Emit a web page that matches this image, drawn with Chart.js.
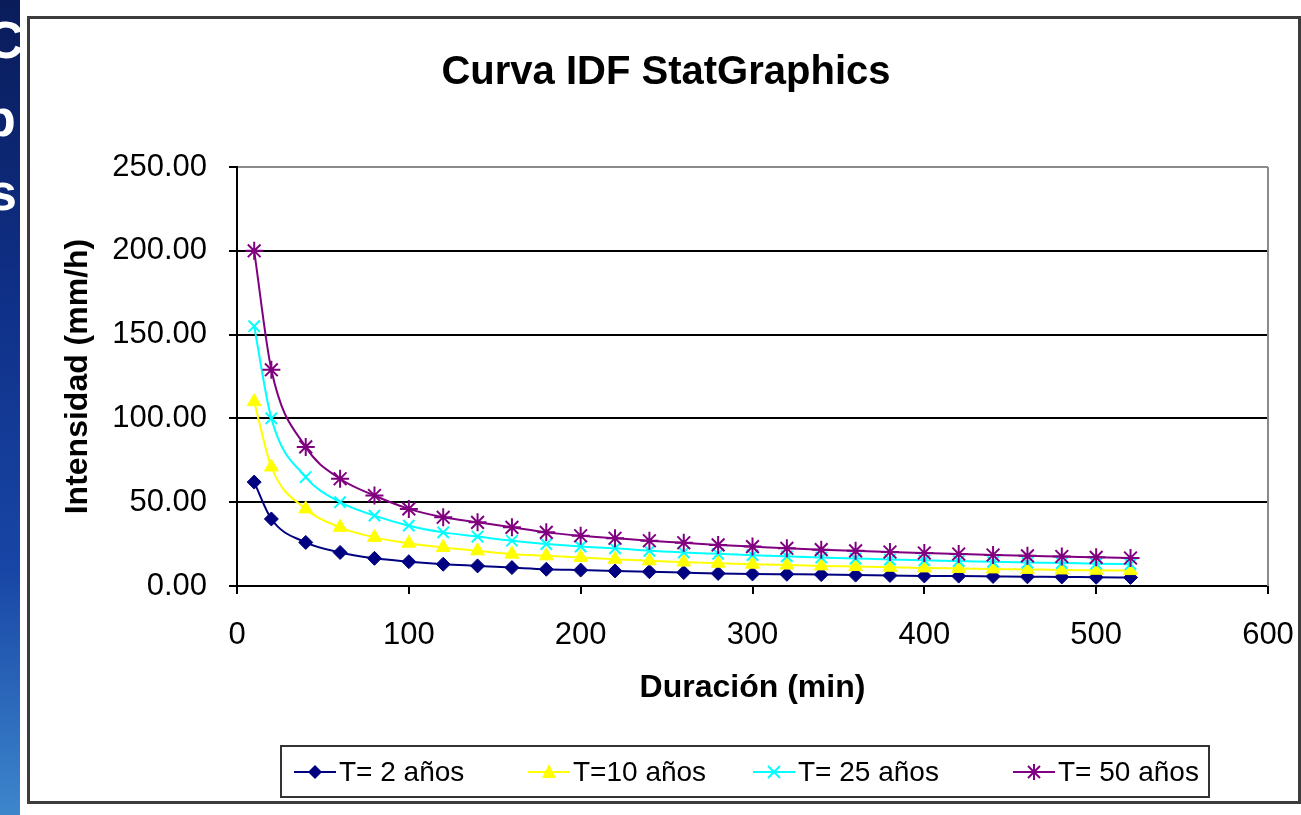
<!DOCTYPE html>
<html>
<head>
<meta charset="utf-8">
<script src="https://cdn.jsdelivr.net/npm/chart.js@4/dist/chart.umd.min.js"></script>
<style>
  html, body { margin:0; padding:0; background:#fff; width:1301px; height:815px; overflow:hidden; }
  body { position:relative; font-family:'Liberation Sans', Arial, sans-serif; }
  #strip { position:absolute; left:0; top:0; width:20px; height:815px; overflow:hidden;
           background:linear-gradient(180deg,#0a1c5a 0%,#0f2f86 35%,#1846a6 70%,#3d86cc 100%); }
  #strip span { position:absolute; color:#fff; font-weight:bold; font-size:52px; line-height:1; }
  #frame { position:absolute; left:27px; top:16px; width:1268px; height:782px; border:3px solid #3c3c3c; box-sizing:content-box; pointer-events:none; }
  #wrap { position:absolute; left:28px; top:17px; width:1269px; height:783px; }
  #title { position:absolute; left:366px; width:600px; top:46px; text-align:center; font-weight:bold; font-size:40px; line-height:48px; color:#000; white-space:nowrap; }
  #legend { position:absolute; left:280px; top:745px; width:926px; height:49px; border:2px solid #333; background:#fff; }
  .li { position:absolute; top:0; height:49px; display:flex; align-items:center; font-size:28px; color:#000; white-space:nowrap; }
  .li svg { margin-right:3px; }
</style>
</head>
<body>
<div id="strip"><span style="left:-14px;top:14px">C</span><span style="left:-16px;top:92px">p</span><span style="left:-12px;top:166px">s</span></div>
<div id="wrap"><canvas id="c" width="1269" height="783"></canvas></div>
<div id="frame"></div>
<div id="title"></div>
<div id="legend"></div>
<script>
// ---- data ----
const durations = [10,20,40,60,80,100,120,140,160,180,200,220,240,260,280,300,320,340,360,380,400,420,440,460,480,500,520];
const t2  = [62,40,26,20,16.5,14.5,13,12,11,10,9.5,9,8.5,8,7.5,7.2,7,6.8,6.5,6.3,6,5.9,5.7,5.5,5.4,5.2,5.1];
const t10 = [110,71,46,35,29,25.5,23,21,19,18,17,16,15,14.3,13.6,13,12.5,12,11.6,11.2,10.8,10.5,10.2,9.9,9.6,9.4,9.2];
const t25 = [155,100,65,50,42,36,32,29.5,27,25,23.5,22.5,21,20,19.2,18.4,17.7,17,16.4,15.8,15.3,14.9,14.4,14,13.7,13.3,13];
const t50 = [200,129,83,64,54,46,41,38,35,32,30,28.5,27,25.8,24.5,23.5,22.5,21.7,21,20.3,19.7,19.1,18.5,18,17.6,17.1,16.7];
const seriesNames = ['T= 2 años','T=10 años','T= 25 años','T= 50 años'];
const xTicks = [0,100,200,300,400,500,600];
const yTicks = [0,50,100,150,200,250];
const chartTitle = 'Curva IDF StatGraphics';
const xTitle = 'Duración (min)';
const yTitle = 'Intensidad (mm/h)';

const FONT = "'Liberation Sans', Arial, sans-serif";
const colors = ['#000080','#FFFF00','#00FFFF','#800080'];
const styles = ['rectRot','triangle','crossRot','star'];
const radii  = [7,8,8,9];
const values = [t2,t10,t25,t50];

document.getElementById('title').textContent = chartTitle;

const datasets = values.map((arr,i)=>({
  label: seriesNames[i],
  data: durations.map((d,k)=>({x:d, y:arr[k]})),
  borderColor: colors[i],
  backgroundColor: colors[i],
  borderWidth: 2,
  pointStyle: styles[i],
  pointRadius: radii[i],
  pointBorderWidth: (i>=2)?2:1,
  pointBorderColor: colors[i],
  pointBackgroundColor: colors[i],
  cubicInterpolationMode: 'monotone',
  tension: 0.4
})).reverse();

const plotBorder = {
  id:'plotBorder',
  beforeDatasetsDraw(chart){
    const {ctx, chartArea:a} = chart;
    ctx.save();
    ctx.strokeStyle = '#8a8a8a';
    ctx.lineWidth = 2;
    ctx.beginPath();
    ctx.moveTo(a.right, a.top); ctx.lineTo(a.right, a.bottom);
    ctx.stroke();
    ctx.restore();
  }
};

new Chart(document.getElementById('c'), {
  type:'line',
  data:{ datasets },
  plugins:[plotBorder],
  options:{
    responsive:false,
    animation:false,
    layout:{ padding:{ left:0, right:29, top:150, bottom:83 } },
    plugins:{
      legend:{ display:false },
      tooltip:{ enabled:false },
      title:{ display:false }
    },
    scales:{
      x:{
        type:'linear', min:0, max:600,
        afterFit(s){ s.height = 131; s.paddingLeft = 0; s.paddingRight = 0; },
        afterBuildTicks(s){ s.ticks = xTicks.map(v=>({value:v})); },
        ticks:{ color:'#000', font:{ family:FONT, size:31 }, padding:23, maxRotation:0, autoSkip:false },
        grid:{ drawOnChartArea:false, drawTicks:true, tickLength:8, color:'#000', lineWidth:2 },
        border:{ display:true, color:'#000', width:2 },
        title:{ display:true, text:xTitle, color:'#000', font:{ family:FONT, size:32, weight:'bold', lineHeight:1.2 }, padding:{ top:0, bottom:10 } }
      },
      y:{
        type:'linear', min:0, max:250,
        afterFit(s){ s.width = 209; s.paddingTop = 0; s.paddingBottom = 0; },
        afterBuildTicks(s){ s.ticks = yTicks.map(v=>({value:v})); },
        ticks:{ color:'#000', font:{ family:FONT, size:31 }, padding:22, callback:v=>Number(v).toFixed(2) },
        grid:{ drawTicks:true, tickLength:8, lineWidth:2,
               color:(c)=> (c.tick && c.tick.value===250) ? '#8a8a8a' : '#000',
               tickColor:'#000' },
        border:{ display:true, color:'#000', width:2 },
        title:{ display:true, text:yTitle, color:'#000', font:{ family:FONT, size:32, weight:'bold', lineHeight:1.2 }, padding:{ top:31, bottom:0 } }
      }
    }
  }
});

// ---- legend (HTML) ----
const legendPos = [12,246,471,731];
const legendEl = document.getElementById('legend');
function markerSvg(i){
  const c = colors[i];
  let m = '';
  if (i===0) m = `<polygon points="21,3 28,10 21,17 14,10" fill="${c}"/>`;
  if (i===1) m = `<polygon points="21,2 28,16 14,16" fill="${c}"/>`;
  if (i===2) m = `<path d="M15,4 L27,16 M27,4 L15,16" stroke="${c}" stroke-width="2"/>`;
  if (i===3) m = `<path d="M15,4 L27,16 M27,4 L15,16 M21,2 L21,18" stroke="${c}" stroke-width="2"/>`;
  return `<svg width="42" height="20" viewBox="0 0 42 20"><line x1="0" y1="10" x2="42" y2="10" stroke="${c}" stroke-width="2"/>${m}</svg>`;
}
seriesNames.forEach((n,i)=>{
  const d = document.createElement('div');
  d.className='li';
  d.style.left = legendPos[i]+'px';
  d.innerHTML = markerSvg(i)+`<span>${n}</span>`;
  legendEl.appendChild(d);
});
</script>
</body>
</html>
